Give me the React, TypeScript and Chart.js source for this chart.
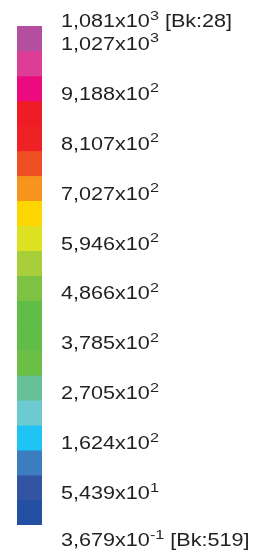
import { useEffect, useRef } from "react";
import { Chart, registerables } from "chart.js";

Chart.register(...registerables);

// ---- data ----
const categories = ["scale"];

// band edges, top to bottom
const bandEdges = [
  1081, 1027, 972.8, 918.8, 864.8, 810.7, 756.7, 702.7, 648.6, 594.6, 540.6,
  486.6, 432.5, 378.5, 324.5, 270.5, 216.4, 162.4, 108.4, 54.39, 0.3679,
];

const bandColors = [
  "#b34f9e",
  "#dd3d95",
  "#ec0b7e",
  "#ed1c25",
  "#ee2124",
  "#f04e23",
  "#f7941d",
  "#fdd500",
  "#dde121",
  "#a8ce3a",
  "#7dc242",
  "#62bd48",
  "#62bd48",
  "#6cbf45",
  "#67c197",
  "#6ccbd0",
  "#20c4f4",
  "#3c7dc0",
  "#3254a3",
  "#2350a3",
];

const tickValues = [
  1081, 1027, 918.8, 810.7, 702.7, 594.6, 486.6, 378.5, 270.5, 162.4, 54.39,
  0.3679,
];
const tickMantissas = [
  "1,081", "1,027", "9,188", "8,107", "7,027", "5,946", "4,866", "3,785",
  "2,705", "1,624", "5,439", "3,679",
];
const tickExponents = ["3", "3", "2", "2", "2", "2", "2", "2", "2", "2", "1", "-1"];
const tickNotes = ["[Bk:28]", "", "", "", "", "", "", "", "", "", "", "[Bk:519]"];

const MAIN_FONT = '18px "Liberation Sans", Arial, sans-serif';
const SUP_FONT = '13.5px "Liberation Sans", Arial, sans-serif';
const SCALE_X = 1.2;
const TEXT_COLOR = "#231f20";

const labelPlugin = {
  id: "colorScaleLabels",
  afterDraw(chart: any) {
    const ctx = chart.ctx as CanvasRenderingContext2D;
    const yScale = chart.scales.y;
    const x0 = chart.chartArea.right + 19;
    ctx.save();
    ctx.fillStyle = TEXT_COLOR;
    ctx.textBaseline = "alphabetic";
    ctx.textAlign = "left";
    tickValues.forEach((v, i) => {
      let py = yScale.getPixelForValue(v);
      if (i === 0) py += 1;
      else if (i === tickValues.length - 1) py += 21;
      else py -= 1;
      ctx.save();
      ctx.translate(x0, py);
      ctx.scale(SCALE_X, 1);
      ctx.font = MAIN_FONT;
      const base = tickMantissas[i] + "x10";
      ctx.fillText(base, 0, 0);
      let w = ctx.measureText(base).width;
      ctx.font = SUP_FONT;
      ctx.fillText(tickExponents[i], w, -7.5);
      w += ctx.measureText(tickExponents[i]).width;
      if (tickNotes[i]) {
        ctx.font = MAIN_FONT;
        ctx.fillText(" " + tickNotes[i], w, 0);
      }
      ctx.restore();
    });
    ctx.restore();
  },
};

export default function App() {
  const canvasRef = useRef<HTMLCanvasElement | null>(null);

  useEffect(() => {
    if (!canvasRef.current) return;
    const chart = new Chart(canvasRef.current, {
      type: "bar",
      data: {
        labels: categories,
        datasets: bandColors.map((c, i) => ({
          label: "band " + (i + 1),
          data: [[bandEdges[i + 1], bandEdges[i]]] as any,
          backgroundColor: c,
          borderWidth: 0,
          grouped: false,
          barPercentage: 1,
          categoryPercentage: 1,
        })),
      },
      options: {
        responsive: false,
        animation: false,
        events: [],
        layout: { padding: { left: 17, right: 228, top: 26, bottom: 34 } },
        plugins: {
          legend: { display: false },
          tooltip: { enabled: false },
        },
        scales: {
          x: { display: false },
          y: { display: false, min: 0.3679, max: 1081 },
        },
      },
      plugins: [labelPlugin],
    });
    return () => chart.destroy();
  }, []);

  return (
    <div
      style={{
        position: "fixed",
        left: 0,
        top: 0,
        width: 270,
        height: 559,
        background: "#ffffff",
      }}
    >
      <canvas ref={canvasRef} width={270} height={559} style={{ display: "block" }} />
    </div>
  );
}
